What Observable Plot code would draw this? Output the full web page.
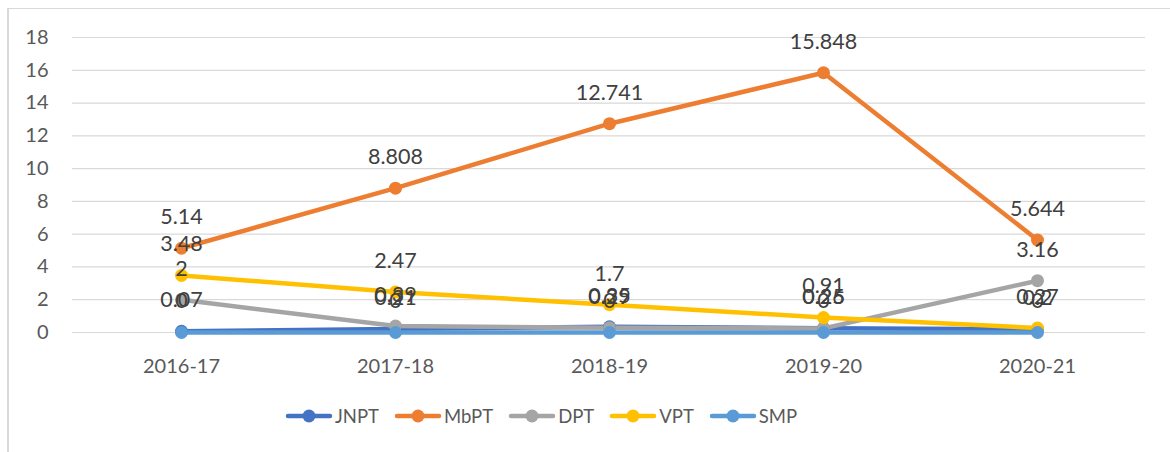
<!DOCTYPE html>
<html>
<head>
<meta charset="utf-8">
<script src="https://cdn.jsdelivr.net/npm/d3@7"></script>
<script src="https://cdn.jsdelivr.net/npm/@observablehq/plot@0.6"></script>
<style>
  html, body { margin: 0; padding: 0; background: #fff; }
  #wrap { position: relative; width: 1170px; height: 452px; overflow: hidden; font-family: Lato, "Open Sans", sans-serif; }
  #frame { position: absolute; left: 7px; top: 8px; width: 1200px; height: 500px; border-top: 1.5px solid #d9d9d9; border-left: 2px solid #d9d9d9; }
  #chart { position: absolute; left: 0; top: 0; }
  #legend { position: absolute; left: 285px; top: 405px; display: flex; align-items: center; gap: 15px; font-size: 18.5px; color: #595959; }
  .item { display: flex; align-items: center; gap: 2px; }
</style>
</head>
<body>
<div id="wrap"><div id="frame"></div><div id="chart"></div><div id="legend"></div></div>
<script>
const years = ["2016-17", "2017-18", "2018-19", "2019-20", "2020-21"];
const seriesNames = ["JNPT", "MbPT", "DPT", "VPT", "SMP"];
const seriesColors = ["#4472C4", "#ED7D31", "#A5A5A5", "#FFC000", "#5B9BD5"];
const JNPT = [0.07, 0.21, 0.35, 0.26, 0.2];
const MbPT = [5.14, 8.808, 12.741, 15.848, 5.644];
const DPT  = [2, 0.39, 0.29, 0.25, 3.16];
const VPT  = [3.48, 2.47, 1.7, 0.91, 0.27];
const SMP  = [0, 0, 0, 0, 0];
const yTicks = [0, 2, 4, 6, 8, 10, 12, 14, 16, 18];

const valuesBySeries = {JNPT, MbPT, DPT, VPT, SMP};
const data = seriesNames.flatMap(s => years.map((yr, i) => ({series: s, year: yr, value: valuesBySeries[s][i]})));
const color = {domain: seriesNames, range: seriesColors};

const plot = Plot.plot({
  width: 1170,
  height: 392,
  marginLeft: 72,
  marginRight: 25,
  marginTop: 37,
  marginBottom: 60,
  style: {fontFamily: "Lato, 'Open Sans', sans-serif", background: "transparent", overflow: "visible"},
  x: {type: "point", domain: years, padding: 0.5, label: null},
  y: {domain: [0, 18], label: null},
  color,
  marks: [
    Plot.gridY(yTicks, {stroke: "#d9d9d9", strokeOpacity: 1, strokeWidth: 1.2}),
    Plot.axisY({ticks: yTicks, tickSize: 0, tickPadding: 24, fontSize: 20, fill: "#595959", label: null}),
    Plot.axisX({tickSize: 0, tickPadding: 26, fontSize: 20, fill: "#595959", label: null}),
    ...seriesNames.map(s => Plot.line(data.filter(d => d.series === s), {x: "year", y: "value", stroke: "series", strokeWidth: 4.5, strokeLinejoin: "round", strokeLinecap: "round"})),
    ...seriesNames.map(s => Plot.dot(data.filter(d => d.series === s), {x: "year", y: "value", fill: "series", r: 6.5})),
    Plot.text(data, {x: "year", y: "value", text: d => String(d.value), dy: -31, fontSize: 21.5, fill: "#404040"})
  ]
});
document.getElementById("chart").appendChild(plot);

const legend = document.getElementById("legend");
seriesNames.forEach((s, i) => {
  const item = document.createElement("div");
  item.className = "item";
  item.innerHTML = `<svg width="48" height="16"><line x1="3" y1="8" x2="45" y2="8" stroke="${seriesColors[i]}" stroke-width="4.5" stroke-linecap="round"/><circle cx="24" cy="8" r="6.5" fill="${seriesColors[i]}"/></svg><span>${s}</span>`;
  legend.appendChild(item);
});
</script>
</body>
</html>
